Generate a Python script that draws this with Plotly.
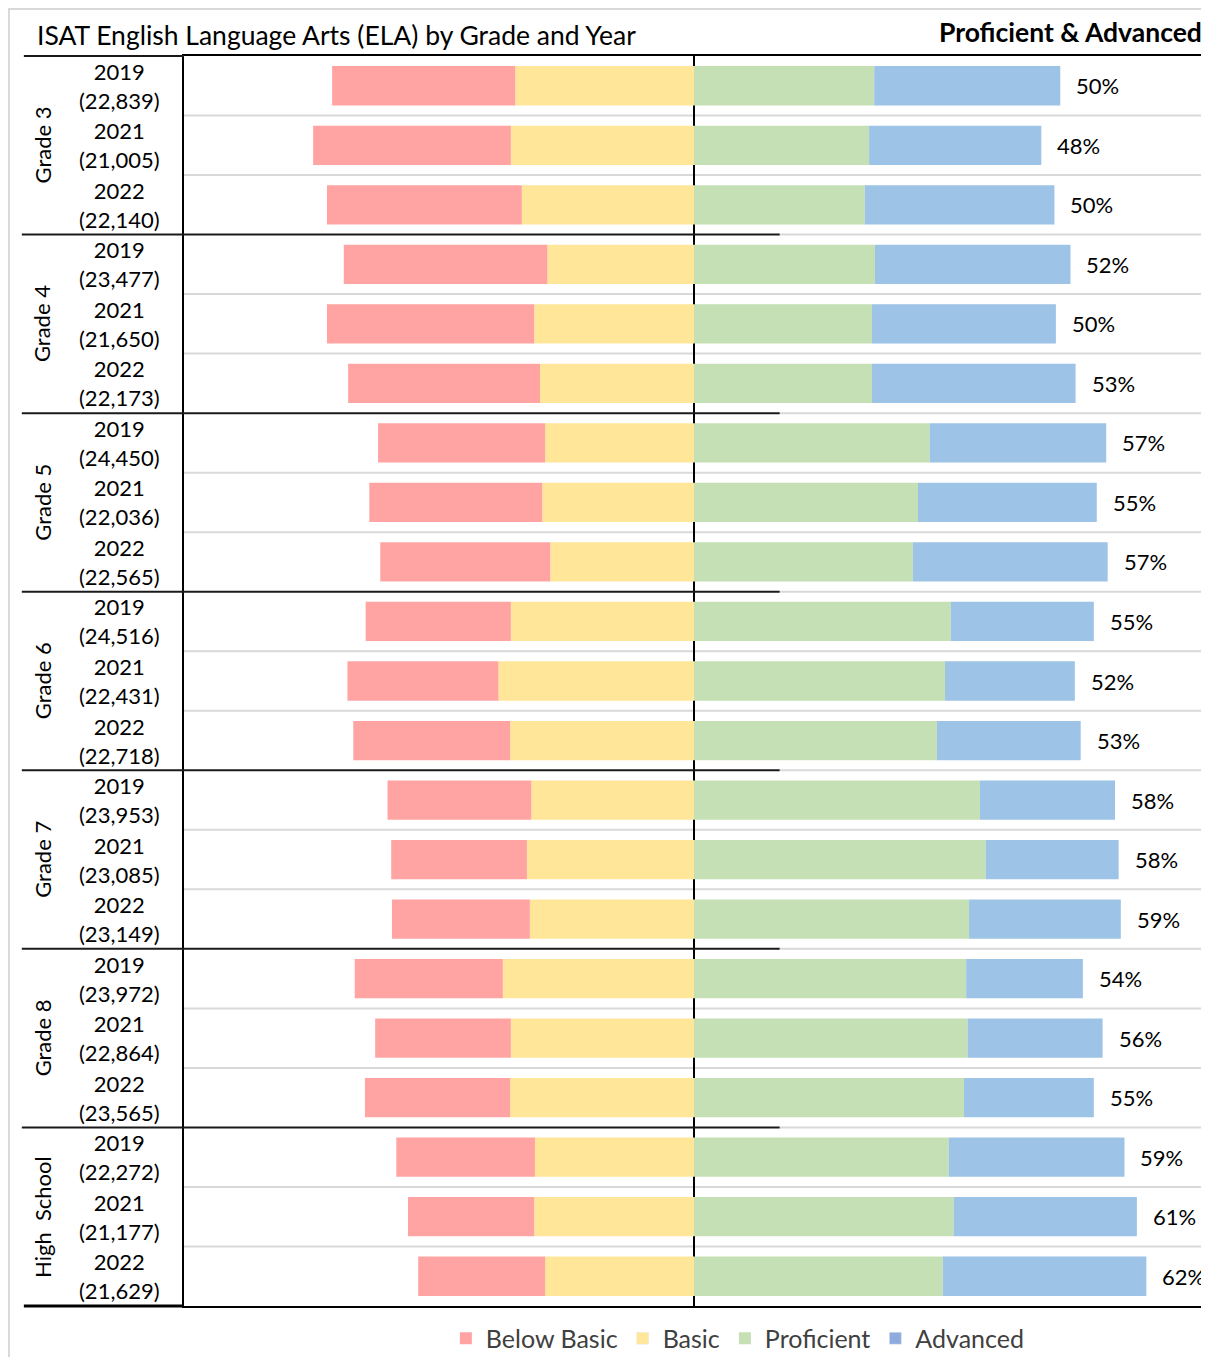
import plotly.graph_objects as go

# rows top to bottom
grades = ["Grade 3", "Grade 4", "Grade 5", "Grade 6", "Grade 7", "Grade 8", "High  School"]
years = ["2019", "2021", "2022"]
counts = [
    "22,839", "21,005", "22,140",
    "23,477", "21,650", "22,173",
    "24,450", "22,036", "22,565",
    "24,516", "22,431", "22,718",
    "23,953", "23,085", "23,149",
    "23,972", "22,864", "23,565",
    "22,272", "21,177", "21,629",
]

# percent of students per level
below_basic = [25.1, 27.1, 26.7, 27.9, 28.4, 26.3, 22.9, 23.7, 23.3, 19.9, 20.7, 21.5,
               19.7, 18.6, 18.9, 20.3, 18.6, 19.9, 19.0, 17.3, 17.4]
basic = [24.5, 25.1, 23.6, 20.1, 21.9, 21.1, 20.4, 20.8, 19.7, 25.1, 26.8, 25.2,
         22.3, 22.9, 22.5, 26.2, 25.1, 25.2, 21.8, 21.9, 20.4]
proficient = [24.7, 24.0, 23.4, 24.8, 24.4, 24.4, 32.3, 30.7, 30.0, 35.2, 34.4, 33.3,
              39.2, 40.0, 37.7, 37.3, 37.5, 37.0, 34.9, 35.6, 34.1]
advanced = [25.5, 23.6, 26.0, 26.8, 25.2, 27.9, 24.2, 24.5, 26.7, 19.6, 17.8, 19.7,
            18.5, 18.2, 20.8, 16.0, 18.5, 17.8, 24.1, 25.1, 27.9]
prof_adv_labels = ["50%", "48%", "50%", "52%", "50%", "53%", "57%", "55%", "57%",
                   "55%", "52%", "53%", "58%", "58%", "59%", "54%", "56%", "55%",
                   "59%", "61%", "62%"]

rows = [f"{g}|{years[i % 3]}" for i, g in enumerate([g for g in grades for _ in years])]

FONT = "Lato"
C_BB, C_B, C_P, C_A = "#FFA3A3", "#FFE699", "#C5E0B4", "#9DC3E6"

fig = go.Figure()
fig.add_trace(go.Bar(y=rows, x=[-v for v in basic], name="Basic", orientation="h",
                     marker=dict(color=C_B, line=dict(width=0)), showlegend=False))
fig.add_trace(go.Bar(y=rows, x=[-v for v in below_basic], name="Below Basic", orientation="h",
                     marker=dict(color=C_BB, line=dict(width=0)), legendrank=1))
fig.add_trace(go.Bar(y=rows, x=proficient, name="Proficient", orientation="h",
                     marker=dict(color=C_P, line=dict(width=0)), legendrank=3))
fig.add_trace(go.Bar(y=rows, x=advanced, name="Advanced", orientation="h",
                     marker=dict(color=C_A, line=dict(width=0)), showlegend=False))
# legend-only entries (order + the darker Advanced swatch)
fig.add_trace(go.Bar(y=[rows[0]], x=[None], name="Basic", orientation="h",
                     marker=dict(color=C_B), legendrank=2))
fig.add_trace(go.Bar(y=[rows[0]], x=[None], name="Advanced", orientation="h",
                     marker=dict(color="#8FAADC"), legendrank=4))

# row separators
shapes = []
for i in range(len(rows) - 1):
    yy = i + 0.5
    if (i + 1) % 3 == 0:
        shapes.append(dict(type="line", xref="paper", yref="y", x0=-0.159, x1=0.584, y0=yy, y1=yy,
                           line=dict(color="#1a1a1a", width=2), layer="above"))
        shapes.append(dict(type="line", xref="paper", yref="y", x0=0.584, x1=1, y0=yy, y1=yy,
                           line=dict(color="#D9D9D9", width=2), layer="below"))
    else:
        shapes.append(dict(type="line", xref="paper", yref="y", x0=0, x1=1, y0=yy, y1=yy,
                           line=dict(color="#D9D9D9", width=2), layer="below"))
# top / bottom lines of the category column
shapes.append(dict(type="line", xref="paper", yref="paper", x0=-0.157, x1=0, y0=1, y1=1,
                   line=dict(color="#1a1a1a", width=2)))
shapes.append(dict(type="line", xref="paper", yref="paper", x0=-0.157, x1=0, y0=0, y1=0,
                   line=dict(color="#000000", width=3)))
# outer chart frame
shapes.append(dict(type="rect", xref="paper", yref="paper", x0=-0.1716, x1=1.2, y0=-0.2, y1=1.0376,
                   line=dict(color="#D9D9D9", width=2), layer="below"))

annotations = []
for i, r in enumerate(rows):
    annotations.append(dict(xref="paper", yref="y", x=-0.063, y=r, text=f"{years[i % 3]}<br>({counts[i]})",
                            showarrow=False, align="center", xanchor="center", yanchor="middle",
                            font=dict(family=FONT, size=22, color="#000000")))
    annotations.append(dict(xref="x", yref="y", x=proficient[i] + advanced[i], y=r, text=prof_adv_labels[i],
                            showarrow=False, xanchor="left", xshift=14,
                            font=dict(family=FONT, size=22, color="#000000")))
for k, g in enumerate(grades):
    annotations.append(dict(xref="paper", yref="y", x=-0.139, y=rows[k * 3 + 1], text=g, textangle=-90,
                            showarrow=False, xanchor="center", yanchor="middle",
                            font=dict(family=FONT, size=22, color="#000000")))
annotations.append(dict(xref="paper", yref="paper", x=-0.146, y=1.0, yanchor="bottom", xanchor="left",
                        text="ISAT English Language Arts (ELA) by Grade and Year", showarrow=False, yshift=3,
                        font=dict(family=FONT, size=26.5, color="#000000")))
annotations.append(dict(xref="paper", yref="paper", x=1.0, y=1.0, yanchor="bottom", xanchor="right",
                        text="<b>Proficient & Advanced</b>", showarrow=False, yshift=6,
                        font=dict(family=FONT, size=26.5, color="#000000")))

fig.update_layout(
    width=1199, height=1349,
    margin=dict(l=176, r=3, t=48, b=51, autoexpand=False),
    barmode="relative", bargap=0.34,
    plot_bgcolor="white", paper_bgcolor="white",
    font=dict(family=FONT),
    shapes=shapes, annotations=annotations,
    legend=dict(orientation="h", x=0.543, xanchor="center", y=-0.026, yanchor="middle",
                font=dict(family=FONT, size=25, color="#404040"), traceorder="normal"),
)
fig.update_xaxes(range=[-69.9, 69.9], showticklabels=False, showgrid=False, ticks="",
                 zeroline=True, zerolinecolor="#000000", zerolinewidth=2,
                 showline=True, linecolor="#000000", linewidth=2, mirror=True)
fig.update_yaxes(categoryorder="array", categoryarray=rows, range=[20.5, -0.5],
                 showticklabels=False, showgrid=False, ticks="",
                 showline=True, linecolor="#000000", linewidth=2, mirror=True)

fig.write_html("out.html")
